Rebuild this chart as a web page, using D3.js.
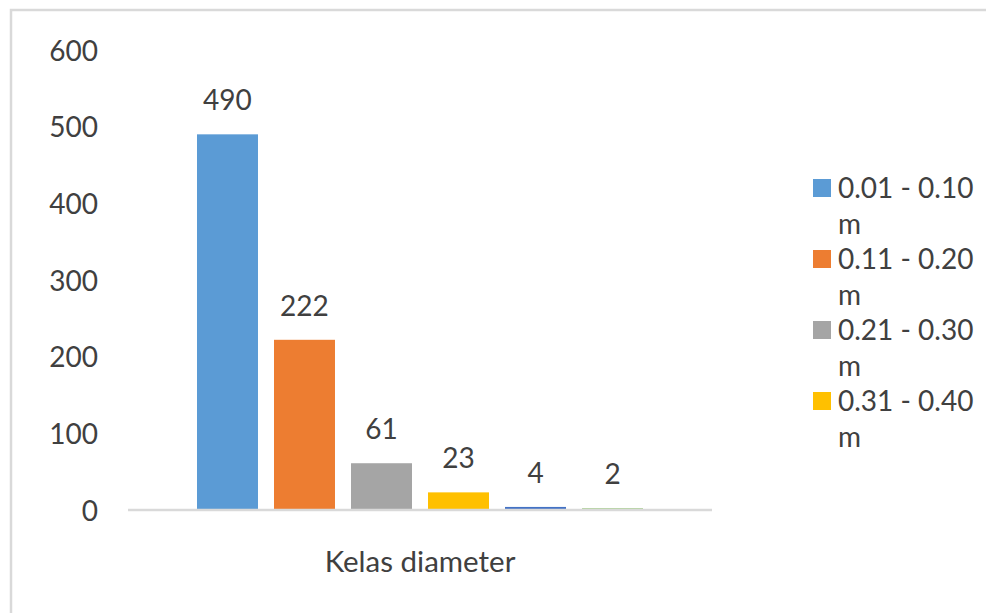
<!DOCTYPE html>
<html>
<head>
<meta charset="utf-8">
<script src="https://cdn.jsdelivr.net/npm/d3@7"></script>
<style>
  body { margin: 0; background: #fff; }
  text { font-family: Lato, "Open Sans", sans-serif; fill: #404040; }
</style>
</head>
<body>
<svg id="chart" width="986" height="613"></svg>
<script>
// data
const category = "Kelas diameter";
const values = [490, 222, 61, 23, 4, 2];
const colors = ["#5B9BD5", "#ED7D31", "#A5A5A5", "#FFC000", "#4472C4", "#70AD47"];
const legendLabels = ["0.01 - 0.10", "0.11 - 0.20", "0.21 - 0.30", "0.31 - 0.40"];
const yTicks = [0, 100, 200, 300, 400, 500, 600];

const fontSize = "28px";
const svg = d3.select("#chart");

// outer frame (only top and left edges show in the picture)
svg.append("rect")
  .attr("x", 11).attr("y", 10)
  .attr("width", 1000).attr("height", 700)
  .attr("fill", "none")
  .attr("stroke", "#d9d9d9")
  .attr("stroke-width", 2.5);

const plotLeft = 128, plotRight = 712;
const yScale = d3.scaleLinear().domain([0, 600]).range([510, 50]);

// one category, six series side by side
const x0 = d3.scaleBand().domain([category]).range([plotLeft, plotRight])
  .paddingInner(0).paddingOuter(0.132);
const x1 = d3.scaleBand().domain(d3.range(values.length))
  .range([0, x0.bandwidth()])
  .paddingInner(0.208).paddingOuter(0.104);

// y axis labels, no line, no ticks
const yAxis = svg.append("g")
  .attr("transform", "translate(98,0)")
  .call(d3.axisLeft(yScale).tickValues(yTicks).tickSize(0).tickPadding(0));
yAxis.select(".domain").remove();
yAxis.selectAll(".tick text")
  .style("font-size", fontSize)
  .attr("fill", "#595959")
  .attr("dy", "0.36em");

const g = svg.append("g").attr("transform", "translate(" + x0(category) + ",0)");

g.selectAll("rect.bar")
  .data(values)
  .enter()
  .append("rect")
  .attr("class", "bar")
  .attr("x", (d, i) => x1(i))
  .attr("y", d => yScale(d))
  .attr("width", x1.bandwidth())
  .attr("height", d => yScale(0) - yScale(d))
  .attr("fill", (d, i) => colors[i]);

// value labels
g.selectAll("text.val")
  .data(values)
  .enter()
  .append("text")
  .attr("class", "val")
  .attr("x", (d, i) => x1(i) + x1.bandwidth() / 2)
  .attr("y", d => yScale(d) - 24)
  .attr("text-anchor", "middle")
  .style("font-size", fontSize)
  .text(d => d);

// category axis line, drawn over the bars
const xAxis = svg.append("g")
  .attr("transform", "translate(0," + yScale(0) + ")")
  .call(d3.axisBottom(x0).tickSize(0).tickPadding(0));
xAxis.select(".domain")
  .attr("stroke", "#d9d9d9")
  .attr("stroke-width", 2.5)
  .attr("d", "M" + plotLeft + ",0H" + plotRight);
xAxis.selectAll(".tick text")
  .attr("y", 62)
  .attr("dy", 0)
  .style("font-size", "29.5px")
  .attr("fill", "#595959");

// legend, each label wraps onto a second line "m"
const legend = svg.append("g").attr("transform", "translate(813,188)");
const item = legend.selectAll("g")
  .data(legendLabels)
  .enter()
  .append("g")
  .attr("transform", (d, i) => "translate(0," + i * 71 + ")");

item.append("rect")
  .attr("x", 0).attr("y", -9)
  .attr("width", 18).attr("height", 18)
  .attr("fill", (d, i) => colors[i]);

const lt = item.append("text")
  .attr("x", 25)
  .attr("y", 10)
  .style("font-size", fontSize)
  .attr("fill", "#595959");
lt.append("tspan").text(d => d);
lt.append("tspan").attr("x", 25).attr("dy", 36).text("m");
</script>
</body>
</html>
